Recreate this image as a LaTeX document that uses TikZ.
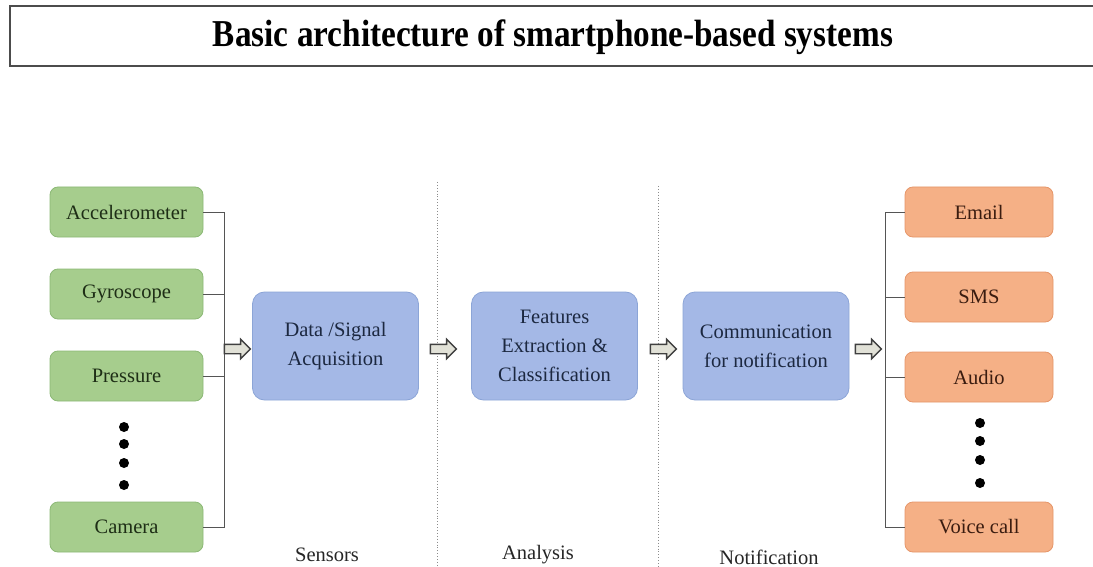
\documentclass[tikz,border=0pt]{standalone}
\usepackage{fontspec}
\setmainfont{Liberation Serif}
\usetikzlibrary{shapes.arrows}

\definecolor{sensfill}{RGB}{166,205,141}
\definecolor{sensline}{RGB}{140,185,118}
\definecolor{sensink}{RGB}{30,46,22}
\definecolor{procfill}{RGB}{164,184,230}
\definecolor{procline}{RGB}{140,165,215}
\definecolor{procink}{RGB}{28,40,64}
\definecolor{alertfill}{RGB}{245,176,134}
\definecolor{alertline}{RGB}{230,150,105}
\definecolor{alertink}{RGB}{58,28,16}
\definecolor{wire}{RGB}{85,85,85}
\definecolor{arrowfill}{RGB}{225,225,215}

\tikzset{
  boxbase/.style={rounded corners=8pt, line width=0.8pt, align=center,
              font=\rmfamily\fontsize{20.5}{29}\selectfont, inner sep=0pt},
  sensor/.style={boxbase, fill=sensfill, draw=sensline, text=sensink,
                 minimum width=153pt, minimum height=50pt},
  stage/.style={boxbase, rounded corners=12pt, fill=procfill, draw=procline,
                text=procink, minimum width=166pt, minimum height=108pt},
  alert/.style={boxbase, fill=alertfill, draw=alertline, text=alertink,
                minimum width=148pt, minimum height=50pt},
  wireline/.style={draw=wire, line width=0.9pt},
  flow/.style={single arrow, draw=black!75, fill=arrowfill, line width=1.4pt,
               minimum height=26pt, single arrow head extend=5pt,
               inner xsep=0pt, inner ysep=4pt},
  divider/.style={draw=black!45, line width=0.9pt, dotted},
  phase/.style={font=\rmfamily\fontsize{20.5}{24}\selectfont, text=black!85},
  more/.style={circle, fill=black, inner sep=0pt, minimum size=10pt},
}

\begin{document}
\begin{tikzpicture}[x=1pt, y=-1pt]
  \useasboundingbox (0,0) rectangle (1093,567);
  \fill[white] (0,0) rectangle (1093,567);

  % title bar (open on the right)
  \draw[black!70, line width=1.2pt] (1093,6) -- (10,6) -- (10,66) -- (1093,66);
  \node (title) at (553,37)
    {\resizebox{680pt}{\height}{\fontsize{38}{44}\selectfont\bfseries Basic architecture of smartphone-based systems}};

  % stage dividers
  \draw[divider] (437,182) -- (437,567);
  \draw[divider] (658,186) -- (658,567);

  % sensors
  \node[sensor] (acc) at (126.5,212) {Accelerometer};
  \node[sensor] (gyr) at (126.5,294) {Gyroscope};
  \node[sensor] (prs) at (126.5,376) {Pressure};
  \node[sensor] (cam) at (126.5,527) {Camera};
  \foreach \y [count=\i] in {427,444,463,485}
    \node[more] (sdot\i) at (124,\y) {};

  % processing stages
  \node[stage] (acq) at (335.5,346) {Data /Signal\\Acquisition};
  \node[stage] (feat) at (554.5,346) {Features\\Extraction \&\\Classification};
  \node[stage] (comm) at (766,346) {Communication\\for notification};

  % notification channels
  \node[alert] (mail) at (979,212) {Email};
  \node[alert] (sms)  at (979,297) {SMS};
  \node[alert] (aud)  at (979,377) {Audio};
  \node[alert] (call) at (979,527) {Voice call};
  \foreach \y [count=\i] in {423,441,460,483}
    \node[more] (odot\i) at (980,\y) {};

  % sensor bus
  \coordinate (busL) at (224,0);
  \draw[wireline] (acc.east) -| (busL |- cam.east) -- (cam.east);
  \draw[wireline] (gyr.east) -- (gyr.east -| busL);
  \draw[wireline] (prs.east) -- (prs.east -| busL);

  % output bus
  \coordinate (busR) at (885,0);
  \draw[wireline] (mail.west) -| (busR |- call.west) -- (call.west);
  \draw[wireline] (sms.west) -- (sms.west -| busR);
  \draw[wireline] (aud.west) -- (aud.west -| busR);

  % flow arrows
  \node[flow] (f1) at (235,349) {};
  \node[flow] (f2) at (441,349) {};
  \node[flow] (f3) at (661,349) {};
  \node[flow] (f4) at (866,349) {};

  % phase labels
  \node[phase] (lsens) at (327,555) {Sensors};
  \node[phase] (lana)  at (538,555) {Analysis};
  \node[phase] (lnot)  at (769,557) {Notification};
\end{tikzpicture}
\end{document}
